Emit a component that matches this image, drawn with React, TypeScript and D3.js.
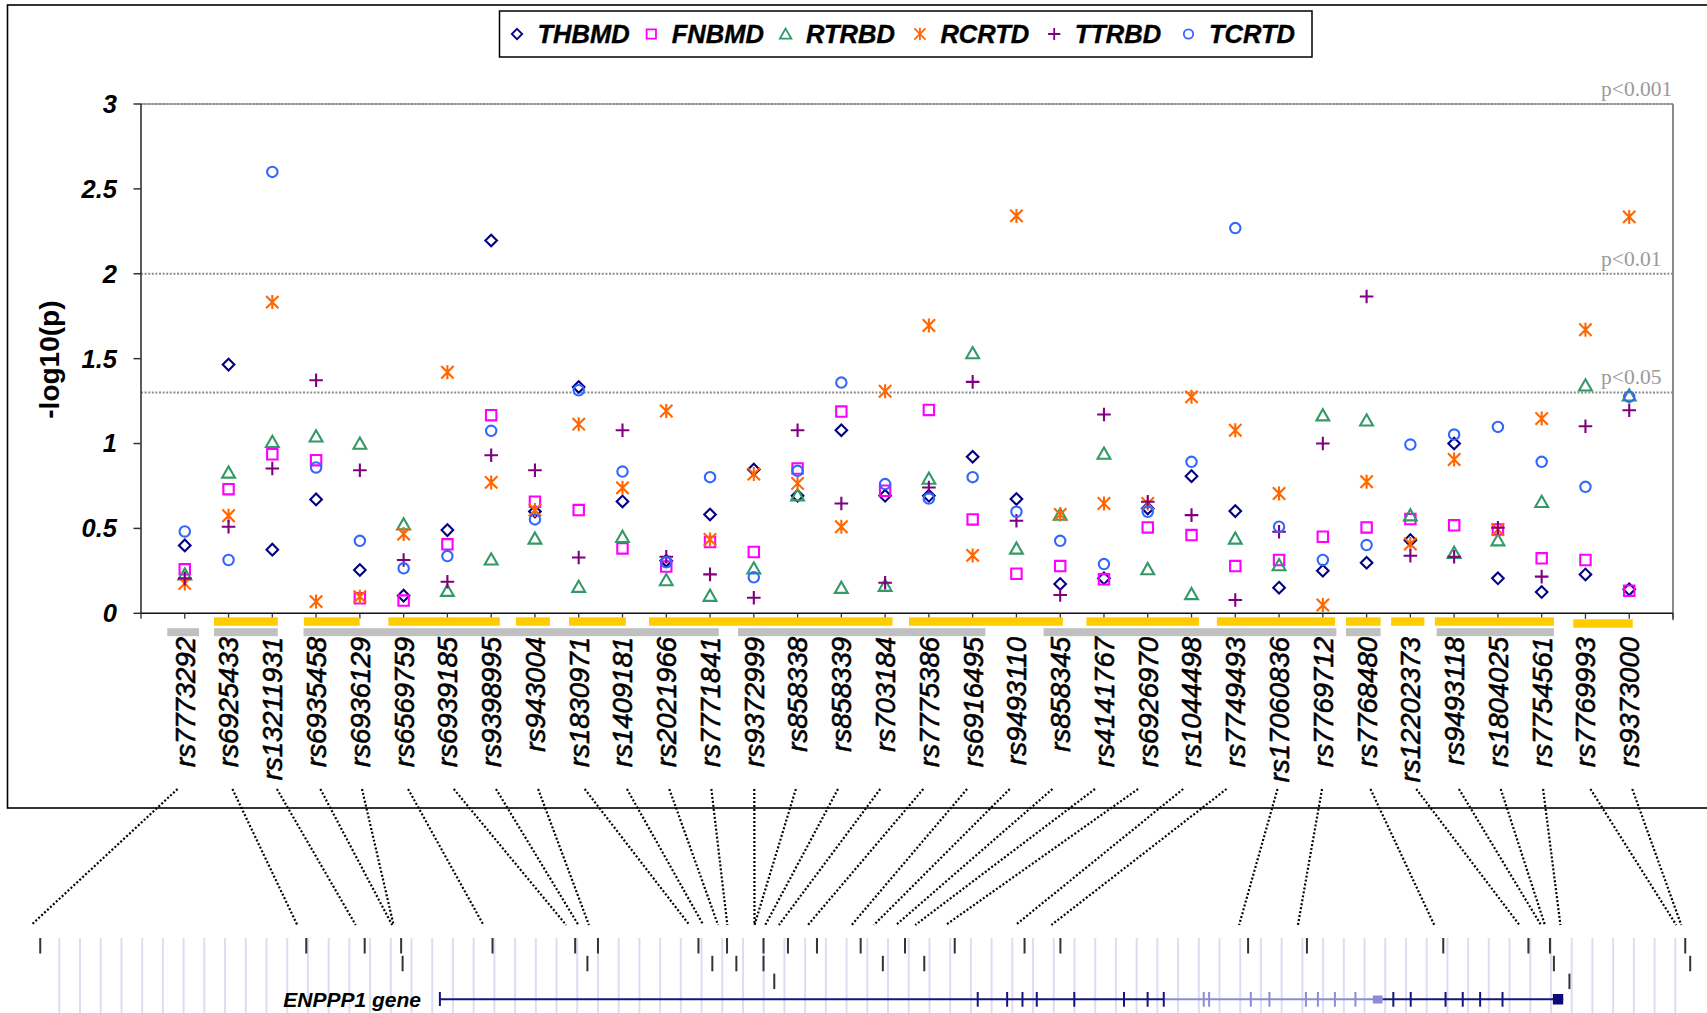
import React from "react";
import * as d3 from "d3";

// ---------- data ----------
const snps = [
  "rs7773292", "rs6925433", "rs13211931", "rs6935458", "rs6936129", "rs6569759",
  "rs6939185", "rs9398995", "rs943004", "rs1830971", "rs1409181", "rs2021966",
  "rs7771841", "rs9372999", "rs858338", "rs858339", "rs703184", "rs7775386",
  "rs6916495", "rs9493110", "rs858345", "rs4141767", "rs6926970", "rs1044498",
  "rs7749493", "rs17060836", "rs7769712", "rs7768480", "rs12202373", "rs9493118",
  "rs1804025", "rs7754561", "rs7769993", "rs9373000",
];

const THBMD = [0.40, 1.465, 0.375, 0.671, 0.255, 0.104, 0.49, 2.196, 0.60, 1.333, 0.659, 0.31, 0.582, 0.847, 0.692, 1.078, 0.692, 0.692, 0.922, 0.673, 0.173, 0.206, 0.618, 0.808, 0.602, 0.151, 0.251, 0.298, 0.431, 1.0, 0.206, 0.125, 0.229, 0.141];
const FNBMD = [0.259, 0.731, 0.937, 0.902, 0.088, 0.075, 0.406, 1.167, 0.657, 0.608, 0.382, 0.275, 0.42, 0.361, 0.853, 1.188, 0.722, 1.198, 0.553, 0.233, 0.278, 0.2, 0.506, 0.461, 0.278, 0.314, 0.451, 0.506, 0.555, 0.518, 0.494, 0.324, 0.314, 0.133];
const RTRBD = [0.23, 0.83, 1.01, 1.043, 1.0, 0.525, 0.133, 0.318, 0.441, 0.157, 0.451, 0.196, 0.104, 0.265, 0.696, 0.151, 0.163, 0.794, 1.533, 0.382, 0.582, 0.941, 0.261, 0.114, 0.441, 0.284, 1.167, 1.137, 0.578, 0.357, 0.431, 0.657, 1.343, 1.284];
const RCRTD = [0.176, 0.575, 1.833, 0.069, 0.098, 0.467, 1.42, 0.771, 0.608, 1.114, 0.739, 1.192, 0.435, 0.82, 0.765, 0.51, 1.308, 1.695, 0.341, 2.341, 0.582, 0.647, 0.647, 1.275, 1.078, 0.706, 0.049, 0.775, 0.408, 0.906, 0.494, 1.147, 1.67, 2.335];
const TTRBD = [0.206, 0.51, 0.853, 1.373, 0.843, 0.314, 0.186, 0.931, 0.843, 0.329, 1.078, 0.333, 0.229, 0.092, 1.078, 0.647, 0.18, 0.741, 1.363, 0.545, 0.108, 1.171, 0.657, 0.578, 0.078, 0.48, 1.0, 1.866, 0.339, 0.333, 0.504, 0.216, 1.102, 1.196];
const TCRTD = [0.482, 0.314, 2.60, 0.859, 0.427, 0.265, 0.337, 1.075, 0.553, 1.314, 0.835, 0.30, 0.802, 0.212, 0.839, 1.359, 0.761, 0.676, 0.802, 0.598, 0.427, 0.29, 0.598, 0.892, 2.269, 0.51, 0.314, 0.402, 0.994, 1.053, 1.098, 0.892, 0.745, 1.275];

const seriesNames = ["THBMD", "FNBMD", "RTRBD", "RCRTD", "TTRBD", "TCRTD"];
const seriesValues = [THBMD, FNBMD, RTRBD, RCRTD, TTRBD, TCRTD];
const seriesColors = ["#000080", "#FF00FF", "#339966", "#FF6600", "#800080", "#3366FF"];
const seriesShapes = ["diamond", "square", "triangle", "asterisk", "plus", "circle"];

const yTicks = [0, 0.5, 1, 1.5, 2, 2.5, 3];
const yTickLabels = ["0", "0.5", "1", "1.5", "2", "2.5", "3"];
const thresholdValues = [3, 2, 1.30103];
const thresholdLabels = ["p<0.001", "p<0.01", "p<0.05"];

// LD blocks, in category-axis units (category k sits at k+1)
const yellowBlocks = [
  [1.668, 3.125], [3.722, 4.997], [5.652, 8.197], [8.565, 9.342], [9.778, 11.076],
  [11.606, 17.17], [17.546, 21.06], [21.6, 24.17], [24.58, 27.28], [27.53, 28.32],
  [28.56, 29.32], [29.56, 32.28], [32.72, 34.08],
];
const yellowLowered = [false, false, false, false, false, false, false, false, false, false, false, false, true];
const grayBlocks = [
  [0.6, 1.325], [1.668, 3.125], [3.713, 13.2], [13.64, 19.29], [20.62, 27.31],
  [27.53, 28.32], [29.6, 32.28],
];

// genomic track (grid units)
const snpGenomic = [-0.92, 11.92, 14.74, 16.50, 16.57, 20.91, 24.9, 25.49, 26.0, 30.85, 31.52, 32.23, 32.68, 33.99, 33.99, 34.51, 35.17, 36.57, 38.68, 39.75, 40.82, 41.75, 43.22, 46.59, 48.32, 57.38, 60.22, 66.8, 70.91, 71.95, 72.14, 72.89, 78.48, 78.72];
const snpRow = [1, 1, 1, 1, 2, 1, 1, 2, 1, 1, 2, 1, 2, 1, 2, 3, 1, 1, 1, 2, 1, 2, 1, 1, 1, 1, 1, 1, 1, 1, 2, 3, 1, 2];
const geneStart = 18.37;
const geneEnd = 72.59;
const lightSegment = [53.31, 63.87];
const darkExons = [44.33, 45.75, 46.49, 47.18, 48.99, 51.39, 52.53, 53.31, 64.39, 65.23, 66.91, 67.74, 68.58, 69.66];
const lightExons = [55.24, 55.5, 57.51, 58.41, 60.17, 60.75, 61.57, 62.56];
const lightBox = [63.4, 63.87];
const darkBox = [72.09, 72.59];
const gridCount = 78;
const geneLabel = "ENPPP1 gene";

// ---------- layout ----------
const W = 1707;
const H = 1013;
const SANS = "'Liberation Sans', Arial, sans-serif";
const SERIF = "'Liberation Serif', 'Times New Roman', serif";

const xScale = d3.scaleLinear().domain([0, snps.length + 1]).range([141, 1673]);
const yScale = d3.scaleLinear().domain([0, 3]).range([613.3, 104]);
const gScale = d3.scaleLinear().domain([0, gridCount]).range([59.3, 1675.3]);

function markerPath(shape: string): string {
  const p = d3.path();
  switch (shape) {
    case "diamond":
      p.moveTo(0, -5.8); p.lineTo(5.8, 0); p.lineTo(0, 5.8); p.lineTo(-5.8, 0); p.closePath();
      break;
    case "square":
      p.rect(-5.2, -5.2, 10.4, 10.4);
      break;
    case "triangle":
      p.moveTo(0, -6.0); p.lineTo(6.4, 5.2); p.lineTo(-6.4, 5.2); p.closePath();
      break;
    case "asterisk":
      p.moveTo(-6.2, -6.2); p.lineTo(6.2, 6.2); p.moveTo(-6.2, 6.2); p.lineTo(6.2, -6.2);
      p.moveTo(0, -7); p.lineTo(0, 7);
      break;
    case "plus":
      p.moveTo(-6.8, 0); p.lineTo(6.8, 0); p.moveTo(0, -6.8); p.lineTo(0, 6.8);
      break;
    default:
      p.arc(0, 0, 5.2, 0, Math.PI * 2);
  }
  return p.toString();
}

export default function App() {
  const y0 = yScale(0);
  const plotLeft = xScale(0);
  const plotRight = xScale(snps.length + 1);
  const plotTop = yScale(3);

  const legendMarkerX = (i: number) => 517 + i * 134.3;

  return (
    <svg
      width={W}
      height={H}
      viewBox={`0 0 ${W} ${H}`}
      style={{ position: "absolute", left: 0, top: 0, display: "block", background: "#fff" }}
    >
      <rect x={0} y={0} width={W} height={H} fill="#fff" />
      {/* outer frame */}
      <rect x={7.5} y={5} width={1740} height={803} fill="none" stroke="#000" strokeWidth={1.6} />

      {/* legend */}
      <rect x={499.5} y={11} width={812.5} height={46} fill="#fff" stroke="#000" strokeWidth={1.5} />
      {seriesNames.map((name, i) => (
        <g key={name}>
          <path
            d={markerPath(seriesShapes[i])}
            transform={`translate(${legendMarkerX(i)},34) scale(0.9)`}
            fill="none"
            stroke={seriesColors[i]}
            strokeWidth={2}
          />
          <text
            x={legendMarkerX(i) + 20.5}
            y={43}
            fontFamily={SANS}
            fontSize={25.5}
            fontWeight="bold"
            fontStyle="italic"
            fill="#000"
            stroke="#000"
            strokeWidth={0.4}
          >
            {name}
          </text>
        </g>
      ))}

      {/* plot border top/right */}
      <line x1={plotLeft} x2={plotRight} y1={plotTop} y2={plotTop} stroke="#9a9a9a" strokeWidth={1.5} />
      <line x1={plotRight} x2={plotRight} y1={plotTop} y2={y0 + 7} stroke="#8a8a8a" strokeWidth={2} />

      {/* threshold lines */}
      {thresholdValues.map((v, i) => (
        <g key={thresholdLabels[i]}>
          <line
            x1={plotLeft}
            x2={plotRight + 1}
            y1={yScale(v)}
            y2={yScale(v)}
            stroke="#8c8c8c"
            strokeWidth={2}
            strokeDasharray="2 1.6"
          />
          <text x={1601} y={yScale(v) - 8} fontFamily={SERIF} fontSize={21.5} fill="#9a9a9a">
            {thresholdLabels[i]}
          </text>
        </g>
      ))}

      {/* y axis */}
      <line x1={plotLeft} x2={plotLeft} y1={plotTop} y2={y0} stroke="#333" strokeWidth={1.6} />
      {yTicks.map((t, i) => (
        <g key={t}>
          <line x1={plotLeft - 7.5} x2={plotLeft} y1={yScale(t)} y2={yScale(t)} stroke="#333" strokeWidth={1.5} />
          <text
            x={117}
            y={yScale(t)}
            dy="0.35em"
            textAnchor="end"
            fontFamily={SANS}
            fontSize={25.5}
            fontWeight="bold"
            fontStyle="italic"
            fill="#000"
          >
            {yTickLabels[i]}
          </text>
        </g>
      ))}
      <text
        transform={`translate(59,359.6) rotate(-90)`}
        textAnchor="middle"
        fontFamily={SANS}
        fontSize={28}
        fontWeight="bold"
        fill="#000"
      >
        -log10(p)
      </text>

      {/* x axis */}
      <line x1={plotLeft} x2={plotRight} y1={y0} y2={y0} stroke="#111" strokeWidth={1.6} />
      {d3.range(0, snps.length + 2).map((k) => (
        <line key={k} x1={xScale(k)} x2={xScale(k)} y1={y0} y2={y0 + 5.5} stroke="#333" strokeWidth={1.3} />
      ))}

      {/* LD blocks */}
      {yellowBlocks.map((b, i) => (
        <rect
          key={"y" + i}
          x={xScale(b[0])}
          y={yellowLowered[i] ? 619.3 : 617.3}
          width={xScale(b[1]) - xScale(b[0])}
          height={8.4}
          fill="#FFCC00"
        />
      ))}
      {grayBlocks.map((b, i) => (
        <rect
          key={"g" + i}
          x={xScale(b[0])}
          y={628.2}
          width={xScale(b[1]) - xScale(b[0])}
          height={8}
          fill="#C0C0C0"
        />
      ))}

      {/* x labels */}
      {snps.map((s, i) => (
        <text
          key={s}
          transform={`translate(${xScale(i + 1)},637) rotate(-90)`}
          dy="0.36em"
          textAnchor="end"
          fontFamily={SANS}
          fontSize={27.5}
          fontStyle="italic"
          fill="#000"
          stroke="#000"
          strokeWidth={0.6}
        >
          {s}
        </text>
      ))}

      {/* data points */}
      {seriesValues.map((vals, si) => (
        <g key={seriesNames[si]} fill="none" stroke={seriesColors[si]} strokeWidth={2.1}>
          {vals.map((v, i) => (
            <path key={i} d={markerPath(seriesShapes[si])} transform={`translate(${xScale(i + 1)},${yScale(v)})`} />
          ))}
        </g>
      ))}

      {/* genomic grid */}
      {d3.range(0, gridCount + 1).map((k) => (
        <line key={k} x1={gScale(k)} x2={gScale(k)} y1={938} y2={1013} stroke="#dcdcf7" strokeWidth={2} />
      ))}

      {/* connectors */}
      {snps.map((s, i) => {
        const tx = xScale(i + 1);
        const gx = gScale(snpGenomic[i]);
        const topX = tx + 0.05 * (gx - tx);
        return (
          <line
            key={"c" + s}
            x1={topX}
            y1={789}
            x2={gx - 9}
            y2={925}
            stroke="#000"
            strokeWidth={2.2}
            strokeDasharray="2 2"
          />
        );
      })}

      {/* SNP markers */}
      {snpGenomic.map((g, i) => (
        <line
          key={"m" + i}
          x1={gScale(g)}
          x2={gScale(g)}
          y1={938 + (snpRow[i] - 1) * 17.8}
          y2={953.5 + (snpRow[i] - 1) * 17.8}
          stroke="#333"
          strokeWidth={2}
        />
      ))}

      {/* gene */}
      <line x1={gScale(geneStart)} x2={gScale(lightSegment[0])} y1={999.3} y2={999.3} stroke="#14147f" strokeWidth={2} />
      <line x1={gScale(lightSegment[0])} x2={gScale(lightSegment[1])} y1={999.3} y2={999.3} stroke="#8b8bd6" strokeWidth={2} />
      <line x1={gScale(lightSegment[1])} x2={gScale(geneEnd)} y1={999.3} y2={999.3} stroke="#14147f" strokeWidth={2} />
      <line x1={gScale(geneStart)} x2={gScale(geneStart)} y1={992} y2={1006} stroke="#14147f" strokeWidth={2} />
      {darkExons.map((e, i) => (
        <line key={"de" + i} x1={gScale(e)} x2={gScale(e)} y1={992} y2={1006.7} stroke="#14147f" strokeWidth={2} />
      ))}
      {lightExons.map((e, i) => (
        <line key={"le" + i} x1={gScale(e)} x2={gScale(e)} y1={992} y2={1006.7} stroke="#8b8bd6" strokeWidth={2} />
      ))}
      <rect x={gScale(lightBox[0])} y={995.5} width={gScale(lightBox[1]) - gScale(lightBox[0])} height={8} fill="#8b8bd6" />
      <rect x={gScale(darkBox[0])} y={994} width={gScale(darkBox[1]) - gScale(darkBox[0])} height={10.5} fill="#0a0a78" />
      <text
        x={421}
        y={1007}
        textAnchor="end"
        fontFamily={SANS}
        fontSize={21}
        fontWeight="bold"
        fontStyle="italic"
        fill="#000"
      >
        {geneLabel}
      </text>
    </svg>
  );
}
